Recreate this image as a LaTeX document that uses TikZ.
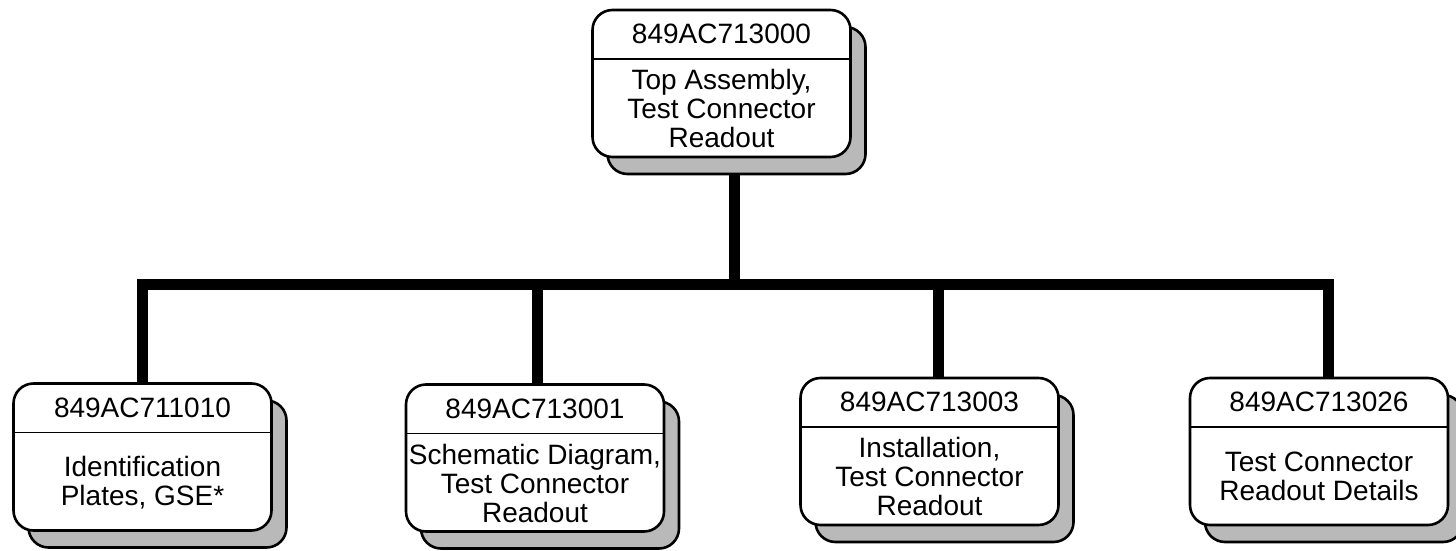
\documentclass[tikz,border=0pt]{standalone}
\usepackage{fontspec}
\setmainfont{Liberation Sans}
\usetikzlibrary{calc}
\begin{document}
\begin{tikzpicture}[
	x=1pt,y=-1pt,
	line cap=butt,
	line join=miter,
	card/.style={draw,line width=2.6pt,rounded corners=20pt,fill=white,
		minimum width=258pt,minimum height=147pt,inner sep=0pt},
	cardshadow/.style={card,fill=gray!55},
	partno/.style={minimum height=50pt,inner sep=0pt,font=\fontsize{28}{29}\selectfont},
	desc/.style={align=center,inner sep=0pt,font=\fontsize{28}{29}\selectfont},
	divider/.style={line width=1.6pt},
	bus/.style={line width=11pt}
	]
	\useasboundingbox (0,0) rectangle (1456,551);
	% shadows
	\node[cardshadow] (topsh) at (736.5,100.5) {};
	\node[cardshadow] (b1sh) at (157.5,474) {};
	\node[cardshadow] (b2sh) at (550,475) {};
	\node[cardshadow] (b3sh) at (944.5,468.5) {};
	\node[cardshadow] (b4sh) at (1334,468.5) {};
	% top assembly
	\node[card] (top) at (721.5,83.5) {};
	\node[partno,anchor=north] (topno) at (top.north) {849AC713000};
	\draw[divider] (top.west |- topno.south) -- (top.east |- topno.south);
	\node[desc] (toptxt) at ($(topno.south)!.5!(top.south)$) {Top Assembly,\\Test Connector\\Readout};
	% sub drawings
	\node[card] (b1) at (142.5,457) {};
	\node[partno,anchor=north] (b1no) at (b1.north) {849AC711010};
	\draw[divider] (b1.west |- b1no.south) -- (b1.east |- b1no.south);
	\node[desc] (b1txt) at ($(b1no.south)!.5!(b1.south)$) {Identification\\Plates, GSE*};

	\node[card] (b2) at (535,458) {};
	\node[partno,anchor=north] (b2no) at (b2.north) {849AC713001};
	\draw[divider] (b2.west |- b2no.south) -- (b2.east |- b2no.south);
	\node[desc] (b2txt) at ($(b2no.south)!.5!(b2.south)$) {Schematic Diagram,\\Test Connector\\Readout};

	\node[card] (b3) at (929.5,451.5) {};
	\node[partno,anchor=north] (b3no) at (b3.north) {849AC713003};
	\draw[divider] (b3.west |- b3no.south) -- (b3.east |- b3no.south);
	\node[desc] (b3txt) at ($(b3no.south)!.5!(b3.south)$) {Installation,\\Test Connector\\Readout};

	\node[card] (b4) at (1319,451.5) {};
	\node[partno,anchor=north] (b4no) at (b4.north) {849AC713026};
	\draw[divider] (b4.west |- b4no.south) -- (b4.east |- b4no.south);
	\node[desc] (b4txt) at ($(b4no.south)!.5!(b4.south)$) {Test Connector\\Readout Details};
	% tree lines
	\coordinate (jt) at (734,284);
	\coordinate (j1) at (142.5,284);
	\coordinate (j2) at (537,284);
	\coordinate (j3) at (938,284);
	\coordinate (j4) at (1328,284);
	\draw[bus] (jt |- topsh.south) -- (jt);
	\draw[bus] (j1 |- b1.north) -- (j1) -- (j4) -- (j4 |- b4.north);
	\draw[bus] (j2) -- (j2 |- b2.north);
	\draw[bus] (j3) -- (j3 |- b3.north);
\end{tikzpicture}
\end{document}
